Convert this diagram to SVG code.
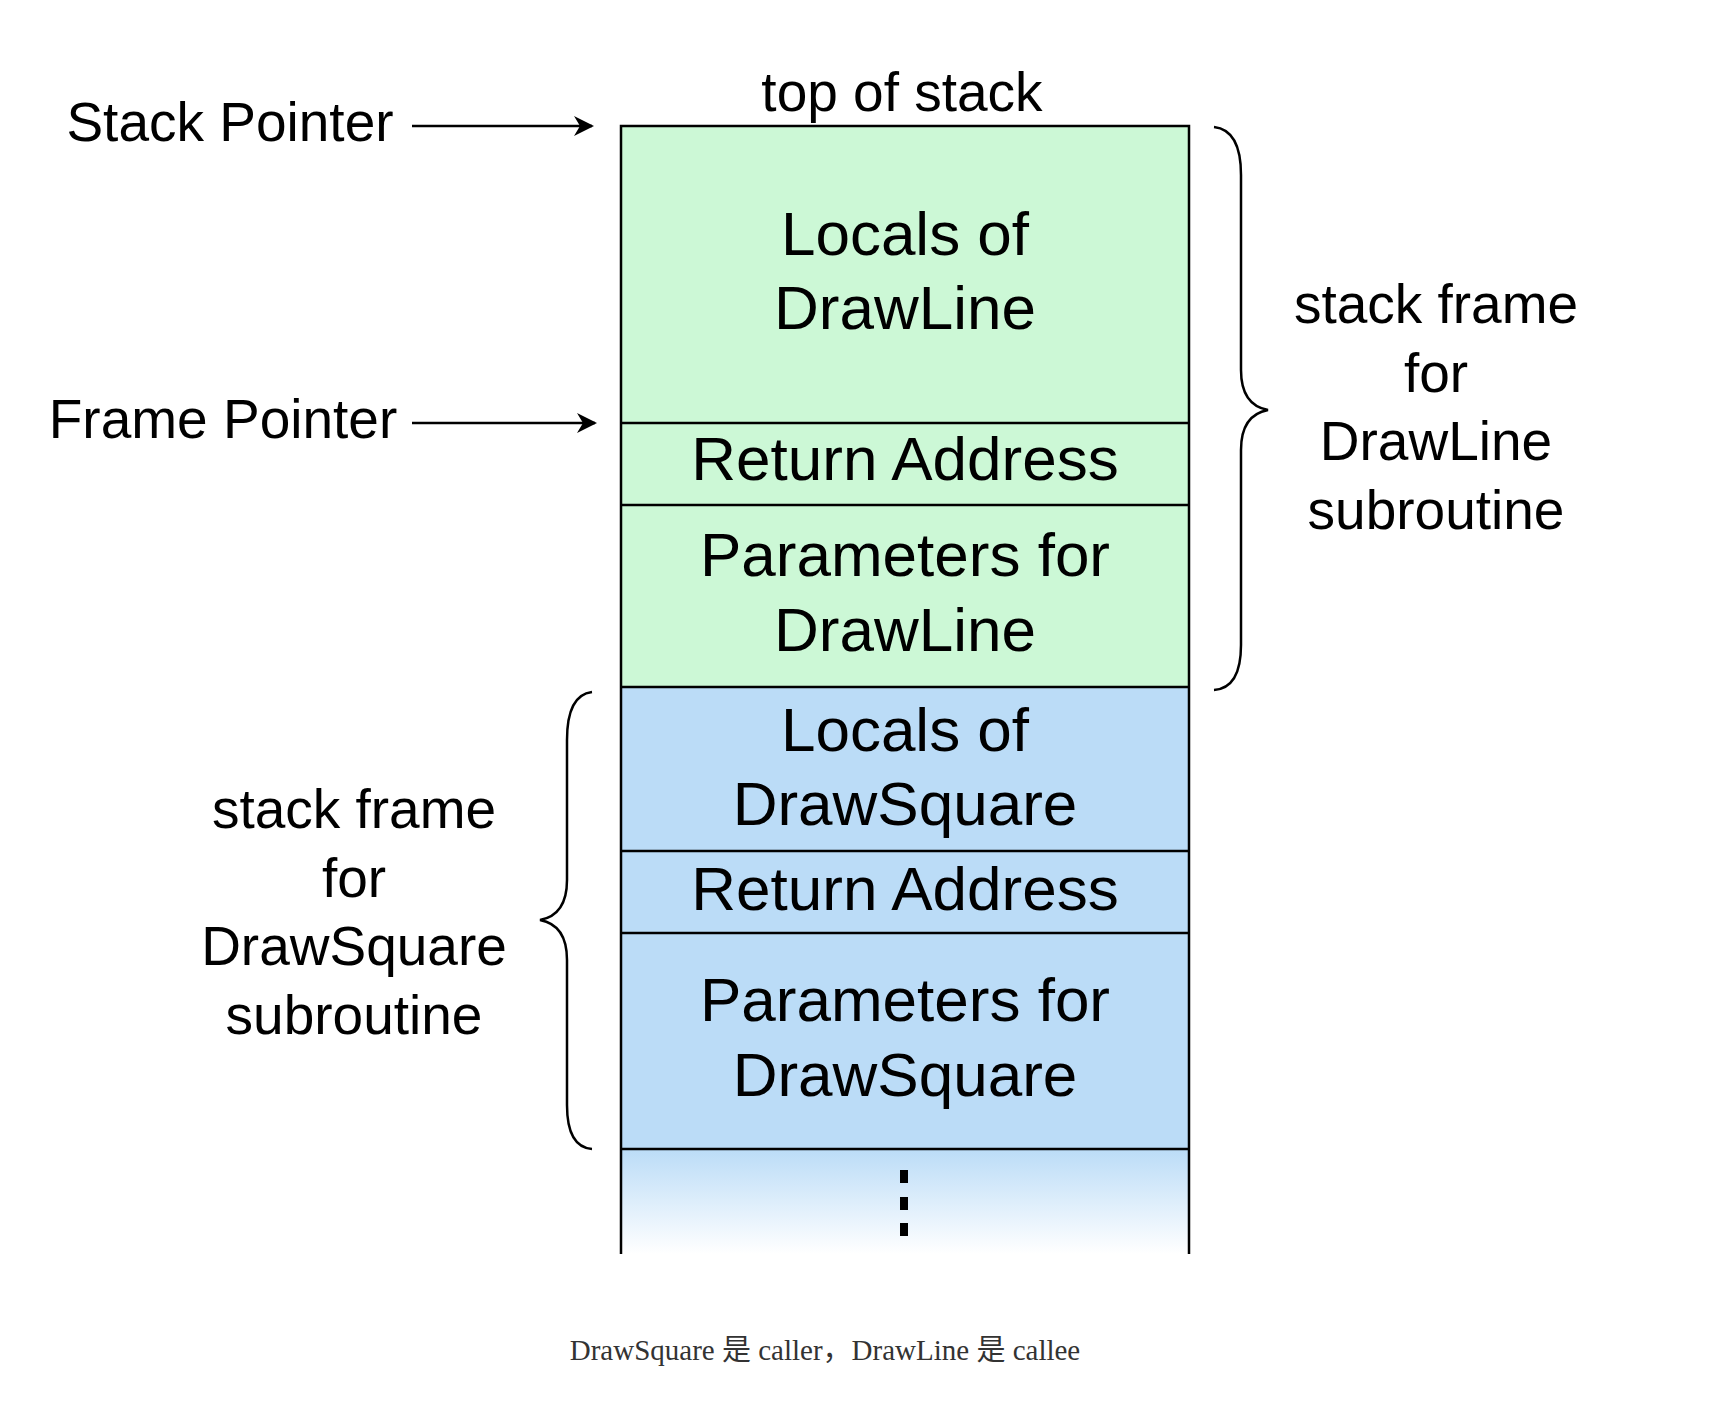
<svg xmlns="http://www.w3.org/2000/svg" width="1718" height="1406" viewBox="0 0 1718 1406">
<style>
.t{font-family:"Liberation Sans",Arial,sans-serif;fill:#000;text-anchor:middle}
.b{font-size:62px}
.m{font-size:55px}
.ln{stroke:#000;stroke-width:2.5;fill:none}
</style>
<defs>
<marker id="ah" viewBox="0 0 20 20" refX="18" refY="10" markerWidth="20" markerHeight="20" markerUnits="userSpaceOnUse" orient="auto"><path d="M0,0 L20,10 L0,20 L6,10 Z" fill="#000"/></marker>
<linearGradient id="fade" x1="0" y1="0" x2="0" y2="1"><stop offset="0" stop-color="#bbdcf7"/><stop offset="1" stop-color="#fff"/></linearGradient>
</defs>
<rect width="1718" height="1406" fill="#fff"/>
<g id="frame-drawline">
<rect x="621" y="126" width="568" height="561" fill="#ccf8d6"/>
</g>
<g id="frame-drawsquare">
<rect x="621" y="687" width="568" height="462" fill="#bbdcf7"/>
</g>
<g id="rest">
<rect x="621" y="1149" width="568" height="105" fill="url(#fade)"/>
<rect x="900" y="1170" width="8" height="13" fill="#000"/>
<rect x="900" y="1197" width="8" height="13" fill="#000"/>
<rect x="900" y="1223" width="8" height="13" fill="#000"/>
</g>
<g id="box-lines">
<path class="ln" d="M621,1254 V126 H1189 V1254"/>
<path class="ln" d="M621,423 H1189 M621,505 H1189 M621,687 H1189 M621,851 H1189 M621,933 H1189 M621,1149 H1189"/>
</g>
<g id="labels">
<text class="t m" x="902" y="111">top of stack</text>
<text class="t b" x="905" y="255">Locals of</text>
<text class="t b" x="905" y="329">DrawLine</text>
<text class="t b" x="905" y="480">Return Address</text>
<text class="t b" x="905" y="576">Parameters for</text>
<text class="t b" x="905" y="651">DrawLine</text>
<text class="t b" x="905" y="751">Locals of</text>
<text class="t b" x="905" y="825">DrawSquare</text>
<text class="t b" x="905" y="910">Return Address</text>
<text class="t b" x="905" y="1021">Parameters for</text>
<text class="t b" x="905" y="1096">DrawSquare</text>
</g>
<g id="stack-pointer"><text class="t m" x="230" y="141">Stack Pointer</text></g>
<g id="frame-pointer"><text class="t m" x="223" y="438">Frame Pointer</text></g>
<g id="right-label">
<text class="t m" x="1436" y="323">stack frame</text>
<text class="t m" x="1436" y="392">for</text>
<text class="t m" x="1436" y="460">DrawLine</text>
<text class="t m" x="1436" y="529">subroutine</text>
</g>
<g id="left-label">
<text class="t m" x="354" y="828">stack frame</text>
<text class="t m" x="354" y="897">for</text>
<text class="t m" x="354" y="965">DrawSquare</text>
<text class="t m" x="354" y="1034">subroutine</text>
</g>
<g id="connectors">
<line class="ln" x1="412" y1="126" x2="592" y2="126" marker-end="url(#ah)"/>
<line class="ln" x1="412" y1="423" x2="595" y2="423" marker-end="url(#ah)"/>
<path class="ln" d="M1214,127 Q1241,130 1241,175 V370 Q1241,405 1268,410 Q1241,415 1241,450 V645 Q1241,688 1214,690"/>
<path class="ln" d="M592,692 Q567,695 567,740 V880 Q567,915 540,920 Q567,925 567,960 V1105 Q567,1147 592,1149"/>
</g>
<text x="825" y="1360" style="font-family:'Liberation Serif','Noto Sans CJK SC',serif;font-size:29px;fill:#333;text-anchor:middle">DrawSquare 是 caller，DrawLine 是 callee</text>
</svg>
